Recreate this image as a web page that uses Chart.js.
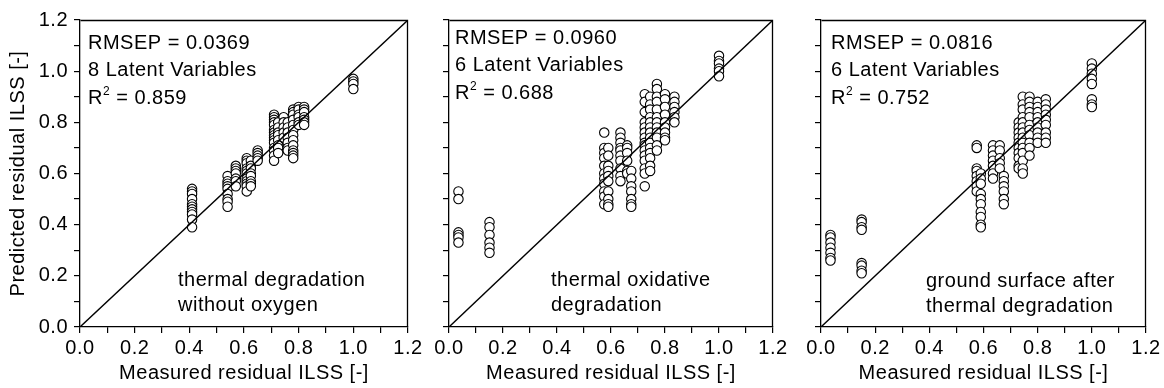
<!DOCTYPE html>
<html>
<head>
<meta charset="utf-8">
<script src="https://cdn.jsdelivr.net/npm/chart.js@4/dist/chart.umd.min.js"></script>
<style>
  body { margin: 0; background: #fff; }
  #wrap { position: relative; width: 1164px; height: 388px; overflow: hidden; }
  canvas { position: absolute; top: 0; }
</style>
</head>
<body>
<div id="wrap">
  <canvas id="c1" width="430" height="388" style="left:0px"></canvas>
  <canvas id="c2" width="370" height="388" style="left:430px"></canvas>
  <canvas id="c3" width="364" height="388" style="left:800px"></canvas>
</div>
<script>
// ---------- DATA (measured value per cluster, predicted values in it) ----------
const p1Measured = [0.41, 0.54, 0.57, 0.61, 0.625, 0.65, 0.71, 0.725, 0.745, 0.76, 0.78, 0.80, 0.82, 1.00];
const p1Predicted = [
  [0.54, 0.53, 0.52, 0.50, 0.48, 0.47, 0.46, 0.45, 0.44, 0.42, 0.39],
  [0.59, 0.57, 0.56, 0.55, 0.54, 0.52, 0.50, 0.49, 0.47],
  [0.63, 0.62, 0.61, 0.60, 0.58, 0.57, 0.55],
  [0.66, 0.65, 0.64, 0.62, 0.61, 0.60, 0.58, 0.57, 0.56, 0.55, 0.53],
  [0.65, 0.63, 0.62, 0.60, 0.59, 0.57, 0.56, 0.55],
  [0.69, 0.68, 0.67, 0.66, 0.65],
  [0.83, 0.82, 0.81, 0.80, 0.79, 0.77, 0.76, 0.75, 0.74, 0.73, 0.72, 0.70, 0.69, 0.67, 0.65],
  [0.80, 0.78, 0.76, 0.75, 0.73, 0.71, 0.70, 0.68],
  [0.82, 0.80, 0.78, 0.76, 0.74],
  [0.80, 0.78, 0.76, 0.74, 0.72, 0.70, 0.69],
  [0.85, 0.84, 0.83, 0.81, 0.79, 0.77, 0.75, 0.73, 0.71, 0.69, 0.68, 0.67, 0.66],
  [0.86, 0.85, 0.83, 0.82, 0.80, 0.79],
  [0.86, 0.85, 0.84, 0.82, 0.81, 0.80, 0.79],
  [0.97, 0.96, 0.95, 0.93]
];

const p2Measured = [0.035, 0.15, 0.575, 0.59, 0.635, 0.66, 0.675, 0.725, 0.745, 0.77, 0.80, 0.835, 1.00];
const p2Predicted = [
  [0.53, 0.50, 0.37, 0.36, 0.35, 0.33],
  [0.41, 0.39, 0.36, 0.33, 0.31, 0.29],
  [0.76, 0.70, 0.68, 0.66, 0.63, 0.60, 0.58, 0.56, 0.53, 0.51, 0.48],
  [0.70, 0.67, 0.63, 0.61, 0.59, 0.57, 0.53, 0.50, 0.48, 0.47],
  [0.76, 0.74, 0.72, 0.70, 0.69, 0.67, 0.65, 0.62, 0.59, 0.57],
  [0.71, 0.70, 0.68, 0.65, 0.61, 0.60],
  [0.61, 0.58, 0.55, 0.53, 0.50, 0.48, 0.47],
  [0.91, 0.88, 0.84, 0.80, 0.78, 0.76, 0.74, 0.72, 0.71, 0.69, 0.67, 0.65, 0.62, 0.60, 0.55],
  [0.90, 0.87, 0.85, 0.82, 0.80, 0.78, 0.76, 0.74, 0.72, 0.70, 0.68, 0.66, 0.63, 0.61],
  [0.95, 0.93, 0.90, 0.88, 0.85, 0.82, 0.80, 0.78, 0.76, 0.74, 0.71, 0.69],
  [0.91, 0.89, 0.86, 0.83, 0.80, 0.78, 0.76, 0.74, 0.73],
  [0.90, 0.88, 0.86, 0.84, 0.82, 0.80],
  [1.06, 1.04, 1.03, 1.01, 1.00, 0.98]
];

const p3Measured = [0.035, 0.15, 0.575, 0.59, 0.635, 0.66, 0.675, 0.73, 0.745, 0.77, 0.80, 0.83, 1.00];
const p3Predicted = [
  [0.36, 0.35, 0.33, 0.31, 0.29, 0.27, 0.26],
  [0.42, 0.41, 0.39, 0.38, 0.25, 0.24, 0.22, 0.21],
  [0.71, 0.70, 0.62, 0.61, 0.59, 0.57, 0.55, 0.53],
  [0.60, 0.58, 0.56, 0.52, 0.50, 0.48, 0.45, 0.43, 0.40, 0.39],
  [0.71, 0.69, 0.67, 0.65, 0.63, 0.60, 0.58],
  [0.71, 0.69, 0.66, 0.64, 0.62],
  [0.59, 0.57, 0.55, 0.53, 0.50, 0.48],
  [0.80, 0.78, 0.76, 0.74, 0.72, 0.70, 0.68, 0.66, 0.63, 0.62],
  [0.90, 0.87, 0.85, 0.82, 0.80, 0.78, 0.76, 0.74, 0.72, 0.70, 0.68, 0.65, 0.62, 0.60],
  [0.90, 0.88, 0.86, 0.84, 0.82, 0.79, 0.77, 0.75, 0.72, 0.70, 0.67],
  [0.88, 0.86, 0.84, 0.82, 0.80, 0.78, 0.76, 0.74, 0.72],
  [0.89, 0.87, 0.85, 0.83, 0.81, 0.79, 0.76, 0.74, 0.72],
  [1.03, 1.01, 0.99, 0.97, 0.95, 0.89, 0.87, 0.86]
];

const axisMin = 0, axisMax = 1.2, tickStep = 0.1;
const identityLine = [0, 1.2];

const rmsepValues = ["0.0369", "0.0960", "0.0816"];
const latentVars = [8, 6, 6];
const r2Values = ["0.859", "0.688", "0.752"];
const conditionText = [
  ["thermal degradation", "without oxygen"],
  ["thermal oxidative", "degradation"],
  ["ground surface after", "thermal degradation"]
];

const FONT = "'Liberation Sans', Arial, sans-serif";

// ---------- HELPERS ----------
function toPoints(xs, ys) {
  const pts = [];
  xs.forEach((x, i) => ys[i].forEach(y => pts.push({ x: x, y: y })));
  return pts;
}

function tickLabel(v, show) {
  if (!show) return "";
  const k = Math.round(v * 10);
  return k % 2 === 0 ? (k / 10).toFixed(1) : "";
}

// frame + text annotations
const annotPlugin = {
  id: "annot",
  beforeDraw(chart) {
    chart.ctx.letterSpacing = "0.5px";
  },
  afterDraw(chart, args, opts) {
    const { ctx, chartArea: a } = chart;
    ctx.save();
    ctx.strokeStyle = "#000";
    ctx.lineWidth = 1.3;
    ctx.beginPath();
    ctx.moveTo(Math.round(a.left) + 0.5, Math.round(a.top) + 0.5);
    ctx.lineTo(Math.round(a.right) - 0.5, Math.round(a.top) + 0.5);
    ctx.lineTo(Math.round(a.right) - 0.5, Math.round(a.bottom));
    ctx.stroke();

    ctx.fillStyle = "#000";
    ctx.letterSpacing = "0.5px";
    ctx.textBaseline = "alphabetic";
    ctx.textAlign = "left";
    ctx.font = "20px " + FONT;
    const i = opts.index;
    const x0 = a.left + opts.tx;
    ctx.fillText("RMSEP = " + rmsepValues[i], x0, opts.ty);
    ctx.fillText(latentVars[i] + " Latent Variables", x0, opts.ty + 27);
    const y3 = opts.ty + 55;
    ctx.fillText("R", x0, y3);
    const rw = ctx.measureText("R").width;
    ctx.font = "12px " + FONT;
    ctx.fillText("2", x0 + rw, y3 - 9);
    const sw = ctx.measureText("2").width;
    ctx.font = "20px " + FONT;
    ctx.fillText(" = " + r2Values[i], x0 + rw + sw, y3);

    const bx = a.left + opts.bx;
    ctx.fillText(conditionText[i][0], bx, opts.by);
    ctx.fillText(conditionText[i][1], bx, opts.by + 25);
    ctx.restore();
  }
};

function makeChart(id, xs, ys, idx, cfg) {
  return new Chart(document.getElementById(id), {
    type: "scatter",
    data: {
      datasets: [
        {
          data: identityLine.map(v => ({ x: v, y: v })),
          showLine: true,
          borderColor: "#000",
          borderWidth: 1.4,
          pointRadius: 0,
          order: 0
        },
        {
          data: toPoints(xs, ys),
          pointStyle: "circle",
          pointRadius: 4.7,
          borderWidth: 1.1,
          borderColor: "#000",
          backgroundColor: "#fff",
          order: 1
        }
      ]
    },
    options: {
      responsive: false,
      animation: false,
      events: [],
      layout: { padding: { top: 20, right: cfg.right, left: 0, bottom: 0 } },
      plugins: {
        legend: { display: false },
        tooltip: { enabled: false },
        annot: { index: idx, tx: cfg.tx, ty: cfg.ty, bx: cfg.bx, by: cfg.by }
      },
      scales: {
        x: {
          type: "linear",
          min: axisMin, max: axisMax,
          afterFit(s) { s.height = 61; },
          border: { display: true, color: "#000", width: 1.3 },
          grid: { drawOnChartArea: false, drawTicks: true, tickLength: 6, color: "#000", lineWidth: 1.2 },
          ticks: {
            stepSize: tickStep, autoSkip: false, maxRotation: 0, minRotation: 0,
            padding: 3, color: "#000", font: { family: FONT, size: 20 },
            callback: v => tickLabel(v, true)
          },
          title: {
            display: true, text: "Measured residual ILSS [-]", color: "#000",
            font: { family: FONT, size: 20 }, padding: { top: 0, bottom: 3 }
          }
        },
        y: {
          type: "linear",
          min: axisMin, max: axisMax,
          afterFit(s) { s.width = cfg.yw; },
          border: { display: true, color: "#000", width: 1.3 },
          grid: { drawOnChartArea: false, drawTicks: true, tickLength: 6, color: "#000", lineWidth: 1.2 },
          ticks: {
            stepSize: tickStep, autoSkip: false,
            padding: 6, color: "#000", font: { family: FONT, size: 20 },
            callback: v => tickLabel(v, idx === 0)
          },
          title: {
            display: idx === 0, text: "Predicted residual ILSS [-]", color: "#000",
            font: { family: FONT, size: 20 }, padding: { top: 6, bottom: 0 }
          }
        }
      }
    },
    plugins: [annotPlugin]
  });
}

makeChart("c1", p1Measured, p1Predicted, 0, { yw: 80, right: 22, tx: 8, ty: 49, bx: 98, by: 286 });
makeChart("c2", p2Measured, p2Predicted, 1, { yw: 19, right: 27, tx: 6, ty: 44, bx: 102, by: 286 });
makeChart("c3", p3Measured, p3Predicted, 2, { yw: 21, right: 18, tx: 10, ty: 49, bx: 105, by: 287 });
</script>
</body>
</html>
